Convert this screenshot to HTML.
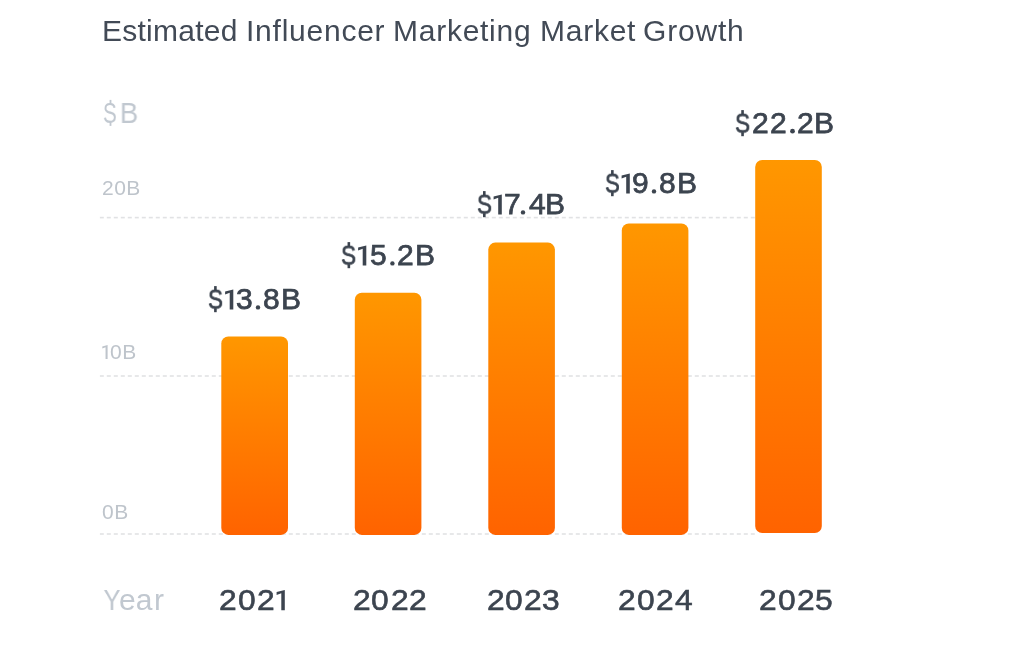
<!DOCTYPE html>
<html>
<head>
<meta charset="utf-8">
<style>
html,body{margin:0;padding:0;background:#ffffff;}
body{width:1024px;height:648px;position:relative;overflow:hidden;font-family:"Liberation Sans",sans-serif;}
svg{position:absolute;left:0;top:0;}
.t{position:absolute;white-space:nowrap;line-height:1;will-change:transform;}
.title{top:16px;font-size:30px;color:#424a56;}
.ax{color:#c1c8d0;}
.unit{top:98px;font-size:30px;}
.tick{left:102px;font-size:21px;color:#bec4cb;}
.val{font-size:30px;color:#3c444f;-webkit-text-stroke:0.75px #3c444f;}
.yr{font-size:30px;color:#3c444f;-webkit-text-stroke:0.6px #3c444f;top:585px;transform:scaleX(1.06);transform-origin:0 0;}
.year{left:103px;top:585px;font-size:30px;}
</style>
</head>
<body>
<svg width="1024" height="648" viewBox="0 0 1024 648">
<defs>
<linearGradient id="g" x1="0" y1="0" x2="0" y2="1">
<stop offset="0" stop-color="#ff9700"/>
<stop offset="1" stop-color="#ff6300"/>
</linearGradient>
<pattern id="d" x="99.8" y="0" width="7" height="4" patternUnits="userSpaceOnUse">
<rect x="0" y="0" width="4" height="4" fill="#e1e2e4"/>
</pattern>
</defs>
<rect x="99.5" y="216.8" width="656" height="1.6" fill="url(#d)"/>
<rect x="99.5" y="375.2" width="656" height="1.6" fill="url(#d)"/>
<rect x="99.5" y="533.2" width="656" height="1.6" fill="url(#d)"/>
<rect x="221.3" y="336.5" width="66.7" height="198.4" rx="7" fill="url(#g)"/>
<rect x="354.8" y="292.8" width="66.6" height="242.1" rx="7" fill="url(#g)"/>
<rect x="488.3" y="242.6" width="66.6" height="292.3" rx="7" fill="url(#g)"/>
<rect x="621.8" y="223.4" width="66.6" height="311.5" rx="7" fill="url(#g)"/>
<rect x="755.2" y="160.0" width="66.6" height="373.0" rx="7" fill="url(#g)"/>
<rect x="214.10" y="286.10" width="2.6" height="5" fill="#3c444f"/>
<rect x="214.10" y="308.20" width="2.6" height="4.0" fill="#3c444f"/>
<path d="M233.30,289.40V309.60H229.70V292.70L225.10,294.50V291.40Z" fill="#3c444f"/>
<circle cx="258.00" cy="307.40" r="2.20" fill="#3c444f"/>
<rect x="347.55" y="242.10" width="2.6" height="5" fill="#3c444f"/>
<rect x="347.55" y="264.20" width="2.6" height="4.0" fill="#3c444f"/>
<path d="M366.30,245.40V265.60H362.70V248.70L358.10,250.50V247.40Z" fill="#3c444f"/>
<circle cx="392.40" cy="263.40" r="2.20" fill="#3c444f"/>
<rect x="483.00" y="191.10" width="2.6" height="5" fill="#3c444f"/>
<rect x="483.00" y="213.20" width="2.6" height="4.0" fill="#3c444f"/>
<path d="M501.80,194.40V214.60H498.20V197.70L493.60,199.50V196.40Z" fill="#3c444f"/>
<circle cx="523.00" cy="212.40" r="2.20" fill="#3c444f"/>
<rect x="611.05" y="170.10" width="2.6" height="5" fill="#3c444f"/>
<rect x="611.05" y="192.20" width="2.6" height="4.0" fill="#3c444f"/>
<path d="M629.80,173.40V193.60H626.20V176.70L621.60,178.50V175.40Z" fill="#3c444f"/>
<circle cx="654.00" cy="191.40" r="2.20" fill="#3c444f"/>
<rect x="741.25" y="110.10" width="2.6" height="5" fill="#3c444f"/>
<rect x="741.25" y="132.20" width="2.6" height="4.0" fill="#3c444f"/>
<circle cx="792.50" cy="131.20" r="2.40" fill="#3c444f"/>
<path d="M284.80,589.90V610.20H281.30V593.20L276.60,595.00V591.90Z" fill="#3c444f"/>
<rect x="109.6" y="99.9" width="1.8" height="4" fill="#c1c8d0"/>
<rect x="109.6" y="121.6" width="1.8" height="4.3" fill="#c1c8d0"/>
<path d="M107.6,345.1V358.9H105.55V347.2L102.3,348.6V346.6Z" fill="#bec4cb"/>
</svg>
<div class="t title" style="left:102px;letter-spacing:0.26px">Estimated</div>
<div class="t title" style="left:245.9px;letter-spacing:0.76px">Influencer</div>
<div class="t title" style="left:392.5px;letter-spacing:0.74px">Marketing</div>
<div class="t title" style="left:539.6px;letter-spacing:0.74px">Market</div>
<div class="t title" style="left:643.1px;letter-spacing:0.82px">Growth</div>
<div class="t ax" style="left:102.87px;top:97.58px;font-size:30px;transform:scale(0.688,0.995);transform-origin:0 0">S</div>
<div class="t ax unit" style="left:118.53px;transform:scaleX(0.92);transform-origin:10.32px 0">B</div>
<div class="t ax tick" style="top:177.2px;letter-spacing:0.45px">20B</div>
<div class="t ax tick" style="top:341px;left:110.4px;letter-spacing:0.6px">0B</div>
<div class="t ax tick" style="top:501px;letter-spacing:0.6px">0B</div>
<div class="t ax year" style="left:101.6px;transform:scaleX(0.85);transform-origin:9.85px 0">Y</div>
<div class="t ax year" style="left:118.8px">ea</div>
<div class="t ax year" style="left:154.4px">r</div>
<div aria-label="$13.8B">
<div class="t val" style="left:207.85px;top:284.70px;transform:scale(0.749,0.945);transform-origin:0 0">S</div>
<div class="t val" style="left:235.55px;top:284px">3</div>
<div class="t val" style="left:263.10px;top:284px">8</div>
<div class="t val" style="left:280.65px;top:284px">B</div>
</div>
<div aria-label="$15.2B">
<div class="t val" style="left:341.25px;top:240.70px;transform:scale(0.754,0.945);transform-origin:0 0">S</div>
<div class="t val" style="left:369.55px;top:240px">5</div>
<div class="t val" style="left:397.10px;top:240px">2</div>
<div class="t val" style="left:414.65px;top:240px">B</div>
</div>
<div aria-label="$17.4B">
<div class="t val" style="left:476.75px;top:189.70px;transform:scale(0.749,0.945);transform-origin:0 0">S</div>
<div class="t val" style="left:504.25px;top:189px">7</div>
<div class="t val" style="left:528.65px;top:189px">4</div>
<div class="t val" style="left:545.20px;top:189px">B</div>
</div>
<div aria-label="$19.8B">
<div class="t val" style="left:604.86px;top:168.70px;transform:scale(0.743,0.945);transform-origin:0 0">S</div>
<div class="t val" style="left:632.30px;top:168px">9</div>
<div class="t val" style="left:659.10px;top:168px">8</div>
<div class="t val" style="left:676.65px;top:168px">B</div>
</div>
<div aria-label="$22.2B">
<div class="t val" style="left:734.95px;top:108.70px;transform:scale(0.754,0.945);transform-origin:0 0">S</div>
<div class="t val" style="left:752.05px;top:108px">2</div>
<div class="t val" style="left:770.30px;top:108px">2</div>
<div class="t val" style="left:797.40px;top:108px">2</div>
<div class="t val" style="left:814.20px;top:108px">B</div>
</div>
<div aria-label="2021">
<div class="t yr" style="left:219.30px">2</div>
<div class="t yr" style="left:238.05px">0</div>
<div class="t yr" style="left:257.18px">2</div>
</div>
<div aria-label="2022">
<div class="t yr" style="left:352.80px">2</div>
<div class="t yr" style="left:371.25px">0</div>
<div class="t yr" style="left:390.80px">2</div>
<div class="t yr" style="left:409.15px">2</div>
</div>
<div aria-label="2023">
<div class="t yr" style="left:486.50px">2</div>
<div class="t yr" style="left:505.35px">0</div>
<div class="t yr" style="left:524.42px">2</div>
<div class="t yr" style="left:541.95px">3</div>
</div>
<div aria-label="2024">
<div class="t yr" style="left:618.30px">2</div>
<div class="t yr" style="left:637.00px">0</div>
<div class="t yr" style="left:656.17px">2</div>
<div class="t yr" style="left:674.80px">4</div>
</div>
<div aria-label="2025">
<div class="t yr" style="left:758.67px">2</div>
<div class="t yr" style="left:777.55px">0</div>
<div class="t yr" style="left:796.75px">2</div>
<div class="t yr" style="left:814.75px">5</div>
</div>
</body>
</html>
